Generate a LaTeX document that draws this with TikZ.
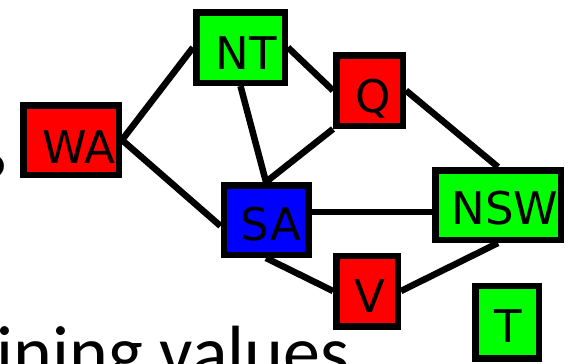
\documentclass[tikz,border=0pt]{standalone}
\usepackage{fontspec}
\setmainfont{DejaVu Sans}
\newfontfamily\carlito{Carlito}
\newcommand{\lbl}[3]{\hspace*{#1pt}\raisebox{-#2pt}[\height][0pt]{#3}}
\begin{document}
\begin{tikzpicture}[x=1pt,y=-1pt,
  region/.style={draw=black,line width=6.5pt,inner sep=0pt,
    font=\fontsize{45}{54}\selectfont},
  link/.style={draw=black,line width=6.5pt}]
\useasboundingbox (0,0) rectangle (568,364);
\definecolor{rd}{RGB}{255,0,0}
\definecolor{gr}{RGB}{0,255,0}
\definecolor{bl}{RGB}{0,0,255}
% region nodes
\node[region,fill=rd,minimum width=95.5pt,minimum height=69.5pt] (WA) at (71,140) {\lbl{16}{7}{WA}};
\node[region,fill=gr,minimum width=88.5pt,minimum height=70.5pt] (NT) at (240.5,47.5) {\lbl{12}{6}{NT}};
\node[region,fill=rd,minimum width=66.5pt,minimum height=70.5pt] (Q) at (369.5,90.5) {\lbl{8}{5}{Q}};
\node[region,fill=bl,minimum width=84.5pt,minimum height=69.5pt] (SA) at (266,220) {\lbl{10}{4}{SA}};
\node[region,fill=gr,minimum width=125.5pt,minimum height=69.5pt] (NSW) at (498,205) {\lbl{14}{3}{NSW}};
\node[region,fill=rd,minimum width=61.5pt,minimum height=70.5pt] (V) at (367,291) {\lbl{5}{5}{V}};
\node[region,fill=gr,minimum width=63.5pt,minimum height=72.5pt] (T) at (507,322) {\lbl{2}{4}{T}};
% constraints
\draw[link] (WA.east) -- (NT.west);
\draw[link] (WA.east) -- ([yshift=-6pt]SA.west);
\draw[link] (NT.south) -- (SA.north);
\draw[link] (NT.east) -- (Q.west);
\draw[link] (SA.north) -- (Q.south west);
\draw[link] (Q.east) -- (NSW.north);
\draw[link] ([yshift=8pt]SA.east) -- ([yshift=-7pt]NSW.west);
\draw[link] (SA.south) -- (V.west);
\draw[link] (V.east) -- (NSW.south);
% cropped slide text
\node[anchor=base east,inner sep=0pt,font=\carlito\fontsize{74}{88}\selectfont] (qm) at (9,205) {?};
\node[anchor=base west,inner sep=0pt,font=\carlito\fontsize{74}{88}\selectfont] (body) at (-3.5,377) {ining values};
\end{tikzpicture}
\end{document}
